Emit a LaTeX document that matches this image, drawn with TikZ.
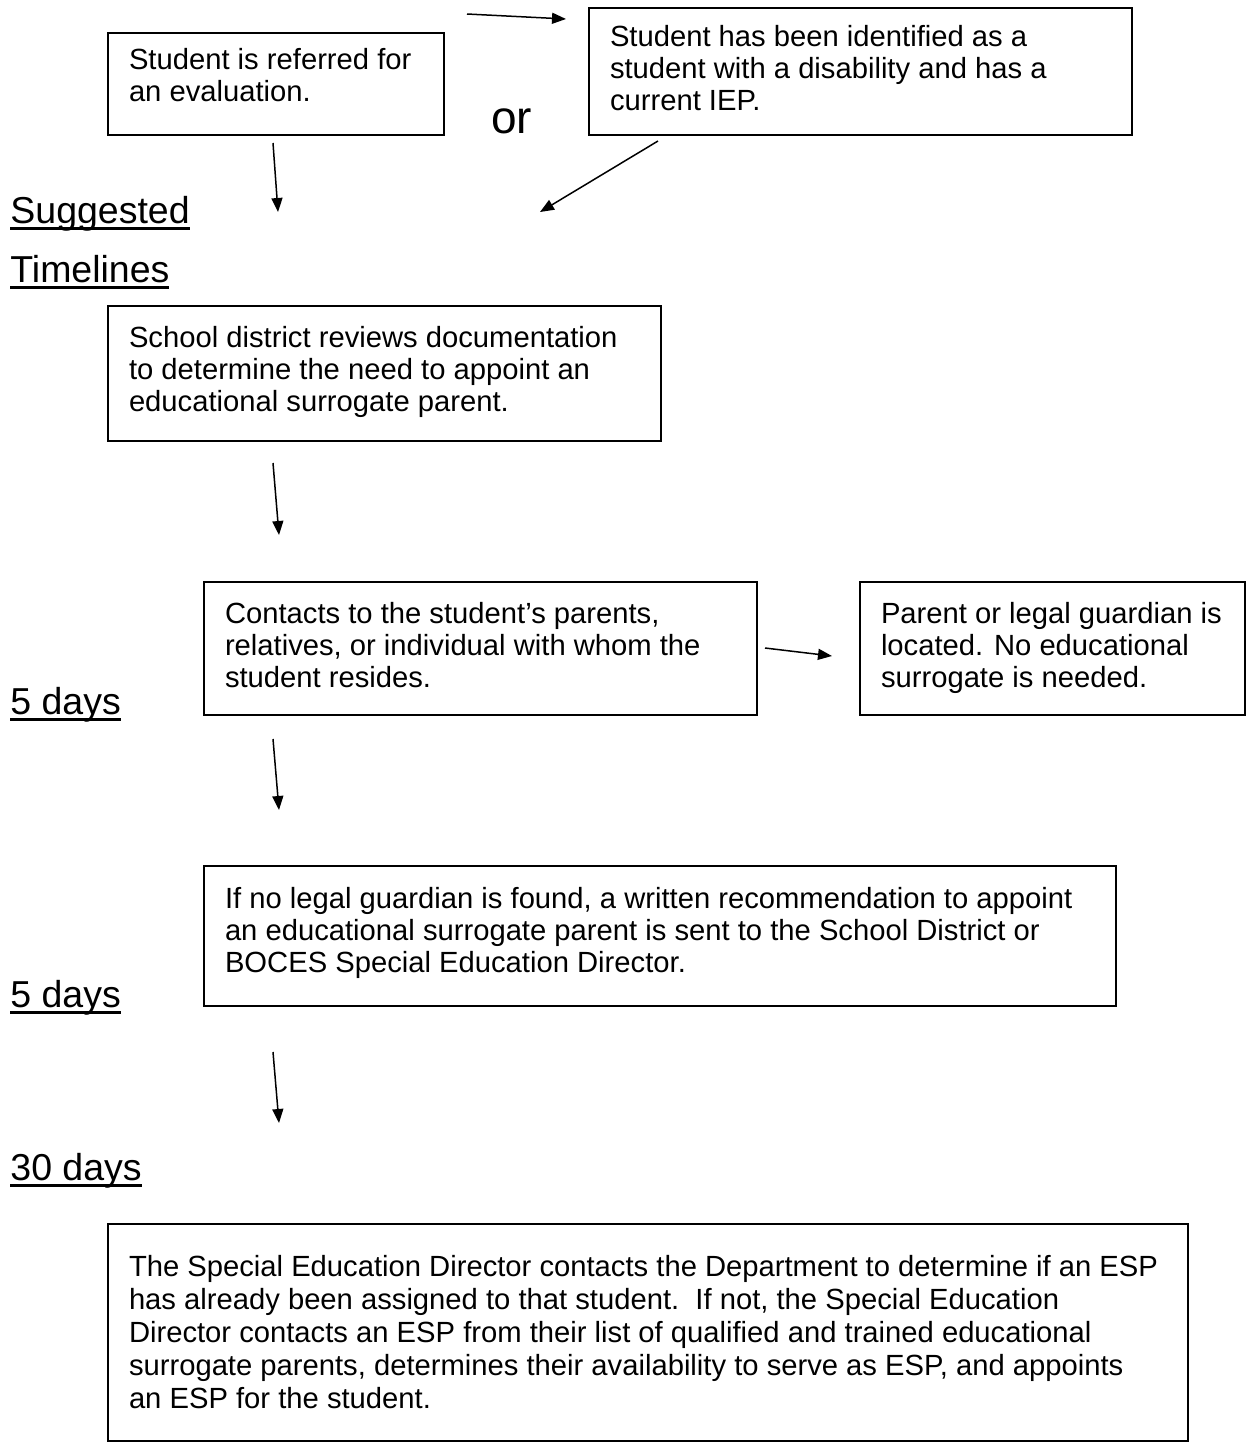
\documentclass[tikz,border=0pt]{standalone}
\usepackage{fontspec}
\setmainfont{Liberation Sans}
\usetikzlibrary{arrows.meta}
\newcommand\boxtxt[4]{\parbox[t][#1][t]{#2}{\vspace*{#3}\begin{tabular}[t]{@{}l@{}}#4\end{tabular}}}
\newcommand\ulin[1]{\setbox0=\hbox{#1}\rlap{\rule[-3.4pt]{\wd0}{1.4pt}}\box0}
\tikzset{
  box/.style={draw, line width=1pt, anchor=north west, inner xsep=10.5pt, inner ysep=0pt,
    font=\fontsize{14.6pt}{16pt}\selectfont},
  head/.style={anchor=base west, inner sep=0pt, font=\fontsize{18.75pt}{22pt}\selectfont},
  arr/.style={line width=0.75pt, -{Triangle[length=7pt,width=5.5pt]}}
}
\begin{document}
\begin{tikzpicture}[x=0.5pt,y=-0.5pt]
\useasboundingbox (0,0) rectangle (1248,1442);
% boxes
\node[box] (b1) at (107,32) {\boxtxt{51pt}{147pt}{6.8pt}{Student is referred for\\an evaluation.}};
\node[box] (b2) at (588,7) {\boxtxt{63.5pt}{250.5pt}{7.8pt}{Student has been identified as a\\student with a disability and has a\\current IEP.}};
\node[box] (b3) at (107,305) {\boxtxt{67.5pt}{255.5pt}{9.3pt}{School district reviews documentation\\to determine the need to appoint an\\educational surrogate parent.}};
\node[box] (b4) at (203,581) {\boxtxt{66.5pt}{255.5pt}{9.3pt}{Contacts to the student’s parents,\\relatives, or individual with whom the\\student resides.}};
\node[box] (b5) at (859,581) {\boxtxt{66.5pt}{171.5pt}{9.3pt}{Parent or legal guardian is\\located. No educational\\surrogate is needed.}};
\node[box] (b6) at (203,865) {\boxtxt{70pt}{435pt}{9.8pt}{If no legal guardian is found, a written recommendation to appoint\\an educational surrogate parent is sent to the School District or\\BOCES Special Education Director.}};
\node[box, font=\fontsize{14.6pt}{16.6pt}\selectfont] (b7) at (107,1223) {\boxtxt{108.5pt}{519pt}{14.4pt}{The Special Education Director contacts the Department to determine if an ESP\\has already been assigned to that student.\ \ If not, the Special Education\\Director contacts an ESP from their list of qualified and trained educational\\surrogate parents, determines their availability to serve as ESP, and appoints\\an ESP for the student.}};
% headings
\node[head] (h1) at (10,223) {\ulin{Suggested}};
\node[head] (h2) at (10,282) {\ulin{Timelines}};
\node[head] (h3) at (10,714) {\ulin{5 days}};
\node[head] (h4) at (10,1007) {\ulin{5 days}};
\node[head] (h5) at (10,1180) {\ulin{30 days}};
\node[anchor=base west, inner sep=0pt, font=\fontsize{23pt}{26pt}\selectfont] (or) at (491,133) {or};
% arrows
\coordinate (a1s) at (467,14);  \coordinate (a1e) at (566,19);
\coordinate (a2s) at (273,143); \coordinate (a2e) at (278,212);
\coordinate (a3s) at (658,141); \coordinate (a3e) at (540,212);
\coordinate (a4s) at (273,463); \coordinate (a4e) at (279,535);
\coordinate (a5s) at (765,648); \coordinate (a5e) at (832,656);
\coordinate (a6s) at (273,739); \coordinate (a6e) at (279,810);
\coordinate (a7s) at (273,1052); \coordinate (a7e) at (279,1123);
\draw[arr] (a1s) -- (a1e);
\draw[arr] (a2s) -- (a2e);
\draw[arr] (a3s) -- (a3e);
\draw[arr] (a4s) -- (a4e);
\draw[arr] (a5s) -- (a5e);
\draw[arr] (a6s) -- (a6e);
\draw[arr] (a7s) -- (a7e);
\end{tikzpicture}
\end{document}
